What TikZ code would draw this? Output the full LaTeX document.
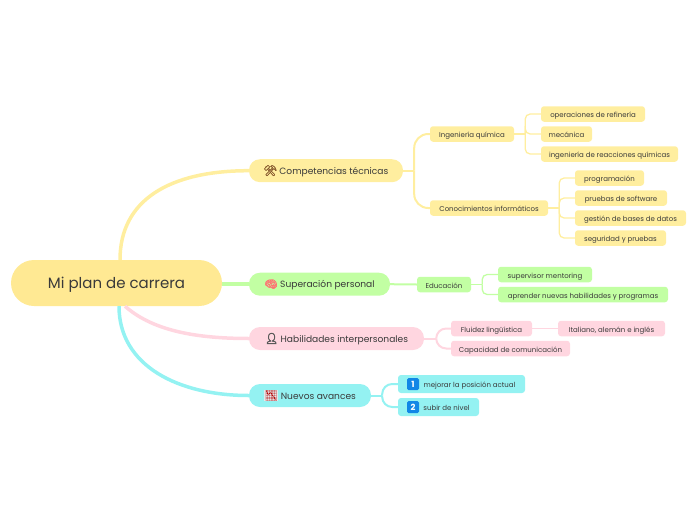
\documentclass[tikz,border=0pt]{standalone}
\usepackage{fontspec}
\usepackage{xcolor}
\setmainfont{Poppins}
\newfontfamily\emojifont[FakeBold=1.6]{Noto Emoji}
\newfontfamily\emojiplain{Noto Emoji}
\newfontfamily\emojiheavy[FakeBold=5]{Noto Emoji}
\usetikzlibrary{positioning}
\definecolor{rootyellow}{HTML}{FFE993}
\definecolor{mapyellow}{HTML}{FFEE9F}
\definecolor{mapgreen}{HTML}{C2FFA3}
\definecolor{mappink}{HTML}{FFD6E0}
\definecolor{mapcyan}{HTML}{94F2F2}
\definecolor{inkgrey}{HTML}{3A3A3A}
\definecolor{keyblue}{HTML}{1187E6}
\definecolor{chartgrey}{HTML}{E6E8EA}
\newcommand{\emo}[2]{{\emojifont\fontsize{10.5}{11}\selectfont\color{#1}#2}}
\tikzset{
	rootnode/.style={fill=rootyellow, rounded corners=23pt, minimum width=211pt, minimum height=46pt, inner sep=0pt, text=inkgrey, text height=13pt, text depth=2.5pt, font=\fontsize{15}{18}\selectfont},
	branch/.style={fill=#1, rounded corners=11pt, minimum height=23pt, inner sep=0pt, text=inkgrey, text height=.85em, text depth=.15em, font=\fontsize{9.1}{11}\selectfont},
	leaf/.style={fill=#1, rounded corners=3pt, minimum height=15.5pt, inner sep=0pt, text=inkgrey, text height=.85em, text depth=.15em, font=\fontsize{7}{9}\selectfont},
	keycap/.style={fill=keyblue, rounded corners=1.5pt, minimum size=12pt, inner sep=0pt, text=white, font=\fontsize{8.5}{9}\selectfont\bfseries},
	thick link/.style={draw=#1, line width=3.5pt},
	mid link/.style={draw=#1, line width=2pt},
	thin link/.style={draw=#1, line width=1.3pt},
}

\begin{document}
\begin{tikzpicture}[x=1pt,y=-1pt]
	\useasboundingbox (0,0) rectangle (697,520);
	%
	\node [rootnode] (root) at (116.5,283) {Mi plan de carrera};
	%
	\node [branch=mapyellow, minimum width=154pt] (comp) at (326,170.7) {\emo{brown!70!black}{⚒} Competencias técnicas};
	\node [branch=mapgreen, minimum width=141pt] (super) at (319.5,284.2) {\emo{red!55!white}{🧠} Superación personal};
	\node [branch=mappink, minimum width=175pt] (habil) at (336.5,338.5) {\emo{black!65}{\emojiheavy 👤} Habilidades interpersonales};
	\node [branch=mapcyan, minimum width=122pt] (nuevos) at (310,395.5) {\fboxsep=0.5pt\colorbox{chartgrey}{\emo{red!70!black}{\emojiplain 📉}} Nuevos avances};
	%
	\node [leaf=mapyellow, minimum width=84pt] (quim) at (472,134) {Ingeniería química};
	\node [leaf=mapyellow, minimum width=118pt] (info) at (489,208) {Conocimientos informáticos};
	\node [leaf=mapyellow, minimum width=104pt] (refi) at (593,114) {operaciones de refinería};
	\node [leaf=mapyellow, minimum width=51pt] (meca) at (566.5,134) {mecánica};
	\node [leaf=mapyellow, minimum width=137pt] (reac) at (609.5,154) {ingeniería de reacciones químicas};
	\node [leaf=mapyellow, minimum width=69pt] (prog) at (609.5,178) {programación};
	\node [leaf=mapyellow, minimum width=92pt] (soft) at (621,198) {pruebas de software};
	\node [leaf=mapyellow, minimum width=111pt] (gest) at (630.5,218) {gestión de bases de datos};
	\node [leaf=mapyellow, minimum width=91pt] (segu) at (620.5,238) {seguridad y pruebas};
	%
	\node [leaf=mapgreen, minimum width=54pt] (edu) at (444,284.5) {Educación};
	\node [leaf=mapgreen, minimum width=94pt] (mento) at (545,274.5) {supervisor mentoring};
	\node [leaf=mapgreen, minimum width=170pt] (apre) at (583,294.5) {aprender nuevas habilidades y programas};
	%
	\node [leaf=mappink, minimum width=81pt] (flui) at (491.5,328.5) {Fluidez lingüística};
	\node [leaf=mappink, minimum width=119pt] (capa) at (510.5,348.5) {Capacidad de comunicación};
	\node [leaf=mappink, minimum width=107pt] (ital) at (611.5,328.5) {Italiano, alemán e inglés};
	%
	\node [leaf=mapcyan, minimum width=127pt, minimum height=18pt] (mejo) at (461.5,384) {\hspace*{16pt}mejorar la posición actual};
	\node [leaf=mapcyan, minimum width=81pt, minimum height=18pt] (subi) at (438.5,407) {\hspace*{16pt}subir de nivel};
	\node [keycap, right=9pt of mejo.west] (key1) {1};
	\node [keycap, right=9pt of subi.west] (key2) {2};
	%
	\draw [thick link=mapyellow] ([xshift=3.5pt]root.north) .. controls +(0,-60) and +(-79,0) .. (comp.west);
	\draw [thick link=mapgreen] (root.east |- super.west) -- (super.west);
	\draw [thick link=mappink] ([xshift=8.5pt]root.south) .. controls +(25,22) and +(-60,0) .. (habil.west);
	\draw [thick link=mapcyan] ([xshift=2.5pt]root.south) .. controls +(0,60) and +(-70,0) .. (nuevos.west);
	%
	\coordinate (forkcomp) at ([xshift=11pt]comp.east);
	\coordinate (forkquim) at ([xshift=11pt]quim.east);
	\coordinate (forkinfo) at ([xshift=11pt]info.east);
	\coordinate (forkedu) at ([xshift=11pt]edu.east);
	\coordinate (forkhabil) at ([xshift=12pt]habil.east);
	\coordinate (forknuevos) at ([xshift=11pt]nuevos.east);
	%
	\draw [mid link=mapyellow] (comp.east) -- (forkcomp);
	\foreach \kid in {quim,info}
		\draw [mid link=mapyellow, rounded corners=14pt] (forkcomp) |- (\kid.west);
	\draw [thin link=mapyellow] (quim.east) -- (forkquim);
	\foreach \kid in {refi,meca,reac}
		\draw [thin link=mapyellow, rounded corners=5pt] (forkquim) |- (\kid.west);
	\draw [thin link=mapyellow] (info.east) -- (forkinfo);
	\foreach \kid in {prog,soft,gest,segu}
		\draw [thin link=mapyellow, rounded corners=5pt] (forkinfo) |- (\kid.west);
	%
	\draw [mid link=mapgreen] (super.east) -- (edu.west);
	\draw [thin link=mapgreen] (edu.east) -- (forkedu);
	\foreach \kid in {mento,apre}
		\draw [thin link=mapgreen, rounded corners=5pt] (forkedu) |- (\kid.west);
	%
	\draw [mid link=mappink] (habil.east) -- (forkhabil);
	\foreach \kid in {flui,capa}
		\draw [mid link=mappink, rounded corners=10pt] (forkhabil) |- (\kid.west);
	\draw [thin link=mappink] (flui.east) -- (ital.west);
	%
	\draw [mid link=mapcyan] (nuevos.east) -- (forknuevos);
	\foreach \kid in {mejo,subi}
		\draw [mid link=mapcyan, rounded corners=10pt] (forknuevos) |- (\kid.west);
\end{tikzpicture}
\end{document}
